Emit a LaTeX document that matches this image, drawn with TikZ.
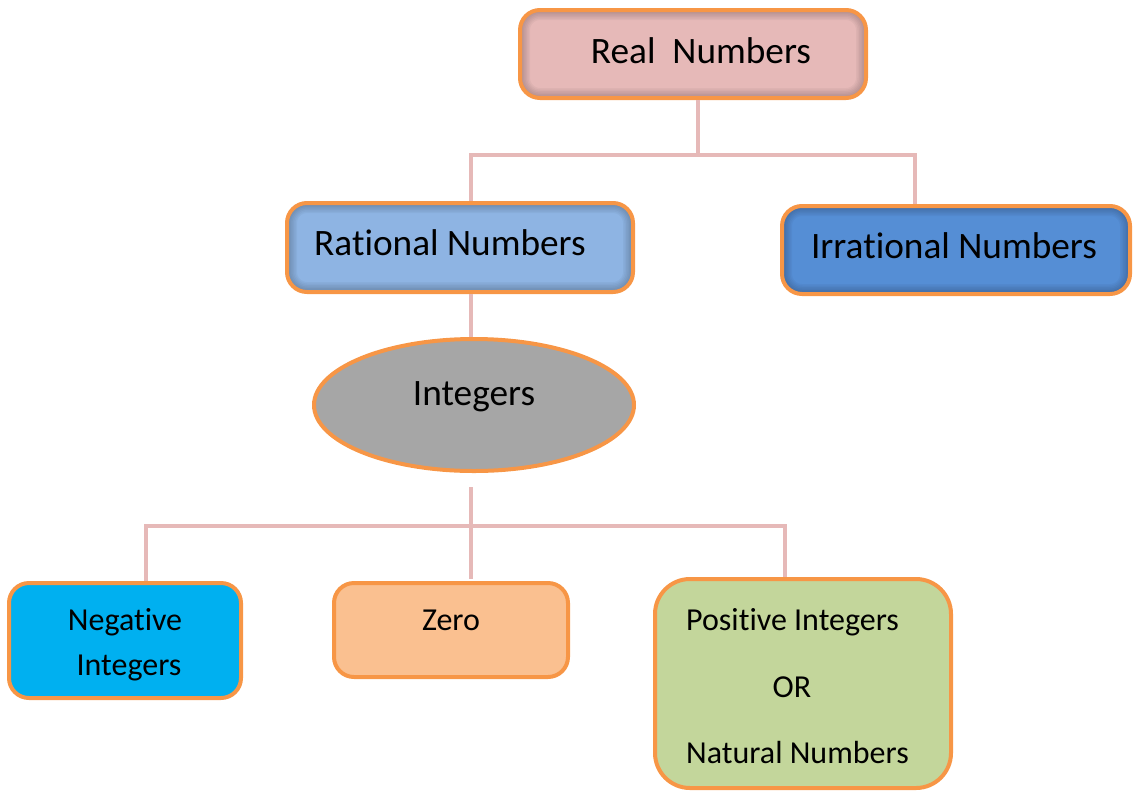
\documentclass[tikz,border=0pt]{standalone}
\usepackage{fontspec}
\setmainfont{Carlito}[Ligatures=NoCommon]
\usetikzlibrary{shapes.geometric,calc}
\definecolor{bordc}{HTML}{F79646}
\definecolor{connc}{HTML}{E6B9B8}
\definecolor{realc}{HTML}{E6B9B8}
\definecolor{ratc}{HTML}{8EB4E3}
\definecolor{irrc}{HTML}{558ED5}
\definecolor{intc}{HTML}{A6A6A6}
\definecolor{negc}{HTML}{00B0F0}
\definecolor{zeroc}{HTML}{FAC090}
\definecolor{posc}{HTML}{C3D69B}
\begin{document}
\begin{tikzpicture}[x=1pt,y=-1pt,
  box/.style={draw=bordc, line width=4pt, rounded corners=20pt, inner sep=0pt},
  innershade/.style={path picture={%
    \foreach \w in {20,17,14,11,8,5}{%
      \draw[line width=\w pt, black, opacity=0.035, rounded corners=20pt]
        (path picture bounding box.south west) rectangle (path picture bounding box.north east);}}},
  big/.style={font=\fontsize{37.3}{44}\selectfont, inner sep=0pt, anchor=base},
  small/.style={font=\fontsize{32}{38}\selectfont, inner sep=0pt, anchor=base},
  conn/.style={draw=connc, line width=3.5pt}]
\useasboundingbox (0,0) rectangle (1134,793);

% boxes
\node[box, innershade, fill=realc, minimum width=346pt, minimum height=88pt] (real) at (693,54) {};
\node[box, innershade, fill=ratc, minimum width=346pt, minimum height=89pt] (rat) at (460,247.5) {};
\node[box, innershade, fill=irrc, minimum width=348pt, minimum height=88pt] (irr) at (956,250) {};
\node[ellipse, draw=bordc, line width=4pt, fill=intc, inner sep=0pt, minimum width=320pt, minimum height=132pt] (int) at (474,405) {};
\node[box, fill=negc, minimum width=232pt, minimum height=115pt] (neg) at (125,640.5) {};
\node[box, fill=zeroc, minimum width=234pt, minimum height=94pt] (zero) at (451,630) {};
\node[box, rounded corners=35pt, fill=posc, minimum width=296pt, minimum height=209pt] (pos) at (803,683.5) {};

% texts
\node[big] (realt) at (701,63) {Real\ \ Numbers};
\node[big] (ratt) at (450,255) {Rational Numbers};
\node[big] (irrt) at (954,258) {Irrational Numbers};
\node[big] (intt) at (474,405) {Integers};
\node[small] (negt1) at (125,630) {Negative};
\node[small] (negt2) at (129,675) {Integers};
\node[small] (zerot) at (451,630) {Zero};
\node[small, anchor=base west] (post1) at (686,630) {Positive Integers};
\node[small] (post2) at (792,697) {OR};
\node[small, anchor=base west] (post3) at (686,763) {Natural Numbers};

% connectors
\coordinate (hM) at (698,155);
\coordinate (hL) at (471,155);
\coordinate (hR) at (915,155);
\draw[conn] (hM |- real.south) -- (hM);
\draw[conn] (hL |- rat.north) -- (hL) -- (hR) -- (hR |- irr.north);
\draw[conn] (hL |- rat.south) -- (hL |- int.north);

\coordinate (istart) at (471,487);
\coordinate (lL) at (146,526);
\coordinate (lR) at (785,526);
\coordinate (zend) at (471,579);
\draw[conn] (istart) -- (zend);
\draw[conn] (lL |- neg.north) -- (lL) -- (lR) -- (lR |- pos.north);
\end{tikzpicture}
\end{document}
